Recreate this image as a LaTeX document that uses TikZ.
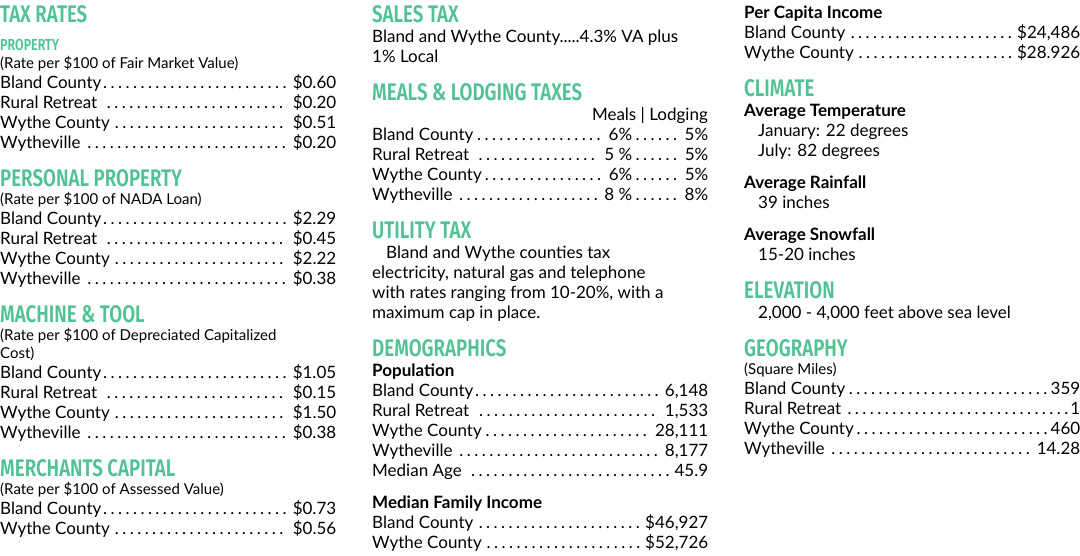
\documentclass[tikz,border=0pt]{standalone}
\usepackage{fontspec}
\usepackage{graphicx}
\setmainfont{Lato}
\newfontfamily\headfont{Fira Sans}[UprightFont=* SemiBold]
\definecolor{headgreen}{HTML}{52C295}
\tikzset{
  body/.style={anchor=base west,inner sep=0pt,font=\fontsize{17}{20}\selectfont},
  small/.style={anchor=base west,inner sep=0pt,font=\fontsize{15}{18}\selectfont},
  sub/.style={anchor=base west,inner sep=0pt,font=\fontsize{17}{20}\selectfont\bfseries},
  head/.style={anchor=base west,inner sep=0pt,text=headgreen,font=\fontsize{24}{26}\headfont},
  minihead/.style={anchor=base west,inner sep=0pt,text=headgreen,font=\fontsize{16}{18}\headfont}
}
\newcommand{\hd}[1]{\scalebox{0.78}[1]{#1}}
\newcommand{\dotrow}[5]{\node[body] at (#1,#2) {\makebox[#3pt][s]{#4\dotfill#5}};}
\begin{document}
\begin{tikzpicture}[x=1pt,y=-1pt]
\useasboundingbox (0,0) rectangle (1080,555);

% Column 1
\node[head] (taxrates) at (0,22) {\hd{TAX RATES}};
\node[minihead] (property) at (0,50) {\hd{PROPERTY}};
\node[small] at (0,68) {(Rate per \$100 of Fair Market Value)};
\dotrow{0}{88}{336}{Bland County}{ \$0.60}
\dotrow{0}{108}{336}{Rural Retreat }{ \$0.20}
\dotrow{0}{128}{336}{Wythe County}{ \$0.51}
\dotrow{0}{148}{336}{Wytheville }{ \$0.20}

\node[head] (personal) at (0,186) {\hd{PERSONAL PROPERTY}};
\node[small] at (0,204) {(Rate per \$100 of NADA Loan)};
\dotrow{0}{224}{336}{Bland County}{ \$2.29}
\dotrow{0}{244}{336}{Rural Retreat }{ \$0.45}
\dotrow{0}{264}{336}{Wythe County}{ \$2.22}
\dotrow{0}{284}{336}{Wytheville }{ \$0.38}

\node[head] (machine) at (0,322) {\hd{MACHINE \& TOOL}};
\node[small] at (0,340) {(Rate per \$100 of Depreciated Capitalized};
\node[small] at (0,358) {Cost)};
\dotrow{0}{378}{336}{Bland County}{ \$1.05}
\dotrow{0}{398}{336}{Rural Retreat }{ \$0.15}
\dotrow{0}{418}{336}{Wythe County}{ \$1.50}
\dotrow{0}{438}{336}{Wytheville }{ \$0.38}

\node[head] (merchants) at (0,476) {\hd{MERCHANTS CAPITAL}};
\node[small] at (0,494) {(Rate per \$100 of Assessed Value)};
\dotrow{0}{514}{336}{Bland County}{ \$0.73}
\dotrow{0}{534}{336}{Wythe County}{ \$0.56}

% Column 2
\node[head] (sales) at (372,22) {\hd{SALES TAX}};
\node[body] at (372,42) {Bland and Wythe County.....4.3\% VA plus};
\node[body] at (372,62) {1\% Local};

\node[head] (meals) at (372,100) {\hd{MEALS \& LODGING TAXES}};
\node[body,anchor=base east] at (708,120) {Meals | Lodging};
\foreach \nm/\m/\l [count=\i] in {Bland County/6/5,Rural Retreat /5\ /5,Wythe County/6/5,Wytheville /8\ /8}{
  \node[body] at (372,120+20*\i) {\makebox[260pt][s]{\nm\dotfill\ \m\%}\makebox[76pt][s]{\dotfill\ \l\%}};
}

\node[head] (utility) at (372,238) {\hd{UTILITY TAX}};
\node[body] at (386,258) {Bland and Wythe counties tax};
\node[body] at (372,278) {electricity, natural gas and telephone};
\node[body] at (372,298) {with rates ranging from 10-20\%, with a};
\node[body] at (372,318) {maximum cap in place.};

\node[head] (demo) at (372,356) {\hd{DEMOGRAPHICS}};
\node[sub] at (372,376) {Population};
\dotrow{372}{396}{336}{Bland County}{ 6,148}
\dotrow{372}{416}{336}{Rural Retreat }{ 1,533}
\dotrow{372}{436}{336}{Wythe County}{ 28,111}
\dotrow{372}{456}{336}{Wytheville }{ 8,177}
\dotrow{372}{476}{336}{Median Age }{45.9}
\node[sub] at (372,508) {Median Family Income};
\dotrow{372}{528}{336}{Bland County}{\$46,927}
\dotrow{372}{548}{336}{Wythe County}{\$52,726}

% Column 3
\node[sub] at (744,18) {Per Capita Income};
\dotrow{744}{38}{336}{Bland County}{\$24,486}
\dotrow{744}{58}{336}{Wythe County}{\$28.926}

\node[head] (climate) at (744,96) {\hd{CLIMATE}};
\node[sub] at (744,116) {Average Temperature};
\node[body] at (758,136) {January: 22 degrees};
\node[body] at (758,156) {July: 82 degrees};
\node[sub] at (744,188) {Average Rainfall};
\node[body] at (758,208) {39 inches};
\node[sub] at (744,240) {Average Snowfall};
\node[body] at (758,260) {15-20 inches};

\node[head] (elevation) at (744,298) {\hd{ELEVATION}};
\node[body] at (758,318) {2,000 - 4,000 feet above sea level};

\node[head] (geography) at (744,356) {\hd{GEOGRAPHY}};
\node[small] at (744,374) {(Square Miles)};
\dotrow{744}{394}{336}{Bland County}{359}
\dotrow{744}{414}{336}{Rural Retreat }{1}
\dotrow{744}{434}{336}{Wythe County}{460}
\dotrow{744}{454}{336}{Wytheville }{ 14.28}
\end{tikzpicture}
\end{document}
